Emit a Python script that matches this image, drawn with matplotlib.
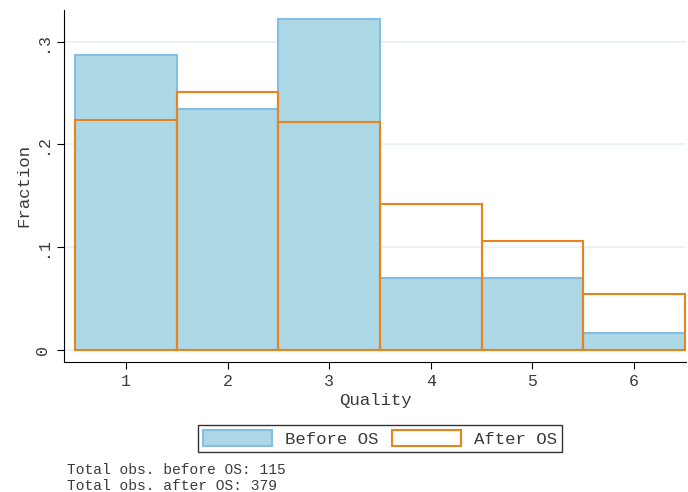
import matplotlib.pyplot as plt
from matplotlib.patches import Patch

# quality categories and share of observations in each
quality = [1, 2, 3, 4, 5, 6]
frac_before = [0.287, 0.235, 0.322, 0.070, 0.070, 0.017]
frac_after = [0.224, 0.251, 0.222, 0.142, 0.106, 0.055]
n_before = 115
n_after = 379

y_ticks = [0, 0.1, 0.2, 0.3]
y_tick_labels = ["0", ".1", ".2", ".3"]

plt.rcParams["font.family"] = ["Liberation Mono", "DejaVu Sans Mono"]

fill_blue = "#add8e6"
edge_blue = "#85bde3"
orange = "#e8831e"
text_col = "#3a3a3a"

fig = plt.figure(figsize=(6.88, 4.92), dpi=100)
ax = fig.add_axes([0.093, 0.264, 0.904, 0.716])

ax.bar(quality, frac_before, width=1.0, color=fill_blue,
       edgecolor=edge_blue, linewidth=1.5, zorder=2)
ax.bar(quality, frac_after, width=1.0, fill=False,
       edgecolor=orange, linewidth=1.5, zorder=3)

ax.set_xlim(0.39, 6.51)
ax.set_ylim(-0.0117, 0.331)
ax.set_xticks(quality)
ax.set_yticks(y_ticks)
ax.set_yticklabels(y_tick_labels, rotation=90, va="center")
ax.tick_params(axis="both", labelsize=12, length=5, color="black",
               labelcolor=text_col)
ax.tick_params(axis="y", pad=5)

# faint horizontal guides, Stata style
ax.grid(axis="y", color="#e8f0f2", linewidth=1.2, zorder=0)
ax.set_axisbelow(True)

for side in ["top", "right"]:
    ax.spines[side].set_visible(False)

ax.set_xlabel("Quality", fontsize=12.5, color=text_col, labelpad=3)
ax.set_ylabel("Fraction", fontsize=12.5, color=text_col, labelpad=3)

handles = [
    Patch(facecolor=fill_blue, edgecolor=edge_blue, linewidth=1.5, label="Before OS"),
    Patch(facecolor="white", edgecolor=orange, linewidth=1.5, label="After OS"),
]
leg = fig.legend(handles=handles, ncol=2, loc="center",
                 bbox_to_anchor=(0.552, 0.109), fontsize=12.5,
                 frameon=True, fancybox=False, edgecolor="black",
                 handlelength=4.0, handleheight=1.1, columnspacing=0.8,
                 handletextpad=0.7, borderpad=0.3, borderaxespad=0)
leg.get_frame().set_linewidth(1.0)
for t in leg.get_texts():
    t.set_color(text_col)

fig.text(0.097, 1 - 470 / 492, f"Total obs. before OS: {n_before}",
         fontsize=10.5, color=text_col, va="center", ha="left")
fig.text(0.097, 1 - 486 / 492, f"Total obs. after OS: {n_after}",
         fontsize=10.5, color=text_col, va="center", ha="left")

fig.savefig("out.png", dpi=100)
